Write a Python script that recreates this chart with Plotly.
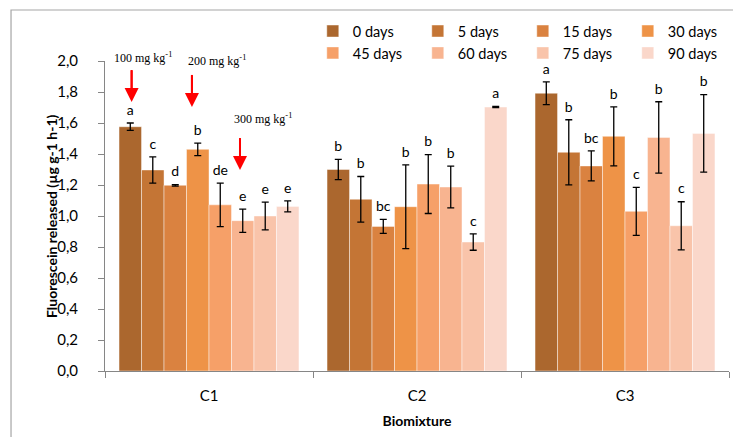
import plotly.graph_objects as go

categories = ["C1", "C2", "C3"]
series_names = ["0 days", "5 days", "15 days", "30 days", "45 days", "60 days", "75 days", "90 days"]
colors = ["#AB672E", "#C47535", "#DA8240", "#EE9347", "#F6A068", "#F8B490", "#F9C4AA", "#FAD7CA"]
legend_groups = ["g0", "g1", "g2", "g3", "g0", "g1", "g2", "g3"]

# values[series][category]
values = [
    [1.576, 1.300, 1.792],
    [1.297, 1.108, 1.411],
    [1.198, 0.933, 1.323],
    [1.430, 1.060, 1.514],
    [1.072, 1.206, 1.030],
    [0.970, 1.187, 1.507],
    [1.000, 0.832, 0.937],
    [1.062, 1.703, 1.533],
]
errors = [
    [0.024, 0.065, 0.073],
    [0.085, 0.147, 0.210],
    [0.005, 0.045, 0.097],
    [0.040, 0.270, 0.190],
    [0.140, 0.190, 0.155],
    [0.075, 0.135, 0.230],
    [0.090, 0.053, 0.155],
    [0.035, 0.004, 0.250],
]
letters = [
    ["a", "b", "a"],
    ["c", "b", "b"],
    ["d", "bc", "bc"],
    ["b", "b", "b"],
    ["de", "b", "c"],
    ["e", "b", "b"],
    ["e", "c", "c"],
    ["e", "a", "b"],
]
dose_labels = ["100 mg kg<sup>-1</sup>", "200 mg kg<sup>-1</sup>", "300 mg kg<sup>-1</sup>"]
dose_text_x = [-0.317, 0.0385, 0.2596]
dose_text_ypaper = [1.0097, 1.0032, 0.8130]
dose_arrow_x = [-0.372, -0.082, 0.149]
dose_arrow_tip_y = [1.735, 1.703, 1.297]
dose_arrow_tail_y = [1.942, 1.910, 1.503]

FONT = "Lato"
n = len(series_names)
group_frac = 0.865
bw = group_frac / n

fig = go.Figure()
for i, name in enumerate(series_names):
    xs = [c + (i - (n - 1) / 2) * bw for c in range(len(categories))]
    fig.add_trace(go.Bar(
        x=xs, y=values[i], width=bw, name=name, legendgroup=legend_groups[i],
        marker=dict(color=colors[i], line=dict(color="rgba(255,255,255,0.55)", width=0.8)),
        error_y=dict(type="data", array=errors[i], color="black", thickness=1.3, width=3.5),
    ))
for i in range(n):
    xs = [c + (i - (n - 1) / 2) * bw for c in range(len(categories))]
    ys = [values[i][c] + errors[i][c] for c in range(len(categories))]
    fig.add_trace(go.Scatter(
        x=xs, y=ys, mode="markers+text", text=letters[i], textposition="top center",
        marker=dict(size=6, color="rgba(0,0,0,0)"),
        textfont=dict(family=FONT, size=14, color="black"), showlegend=False, hoverinfo="skip",
    ))

for k in range(3):
    # arrow shaft
    fig.add_shape(type="line", xref="x", yref="y",
                  x0=dose_arrow_x[k], x1=dose_arrow_x[k],
                  y0=dose_arrow_tail_y[k], y1=dose_arrow_tip_y[k] + 0.05,
                  line=dict(color="#FF0000", width=2))
    # arrow head
    fig.add_annotation(x=dose_arrow_x[k], y=dose_arrow_tip_y[k],
                       ax=dose_arrow_x[k], ay=dose_arrow_tail_y[k], axref="x", ayref="y", text="",
                       font=dict(size=1), borderpad=0,
                       showarrow=True, arrowhead=2, arrowsize=1.4, arrowwidth=2, arrowcolor="#FF0000")
    fig.add_annotation(x=dose_text_x[k], y=dose_text_ypaper[k], xref="x", yref="paper",
                       xanchor="center", yanchor="middle",
                       text=dose_labels[k], showarrow=False,
                       font=dict(family="Liberation Serif", size=12, color="black"))

# y-axis title
fig.add_annotation(x=-0.0865, y=0.5, xref="paper", yref="paper", textangle=-90,
                   xanchor="center", yanchor="middle",
                   text="<b>Fluorescein released (µg g-1 h-1)</b>", showarrow=False,
                   font=dict(family=FONT, size=14, color="black"))

# outer chart border
fig.add_shape(type="rect", xref="paper", yref="paper", x0=-0.1506, x1=1.06, y0=-0.26, y1=1.1645,
              line=dict(color="#A6A6A6", width=1.2), fillcolor="rgba(0,0,0,0)", layer="below")

fig.update_layout(
    width=733, height=429,
    margin=dict(l=97, r=12, t=53, b=66, autoexpand=False),
    plot_bgcolor="white", paper_bgcolor="white",
    separators=", ",
    font=dict(family=FONT, size=15, color="black"),
    barmode="overlay",
    legend=dict(orientation="h", x=0.333, y=1.148, xanchor="left", yanchor="top",
                entrywidth=60, entrywidthmode="pixels", itemwidth=30, traceorder="grouped",
                font=dict(family=FONT, size=14.5), tracegroupgap=0, bgcolor="rgba(0,0,0,0)"),
    xaxis=dict(range=[-0.5, 2.5], tickvals=list(range(len(categories))), ticktext=categories,
               ticks="", showline=True, linecolor="#868686", linewidth=1, showgrid=False, zeroline=False,
               ticklabelstandoff=11,
               minor=dict(tick0=-0.5, dtick=1, ticks="outside", ticklen=6, tickcolor="#868686", showgrid=False),
               title=dict(text="<b>Biomixture</b>", font=dict(family=FONT, size=14), standoff=13)),
    yaxis=dict(range=[0, 2.0], dtick=0.2, tickformat=".1f", ticks="outside", ticklen=6, tickcolor="#868686",
               showline=True, linecolor="#868686", linewidth=1, showgrid=False, zeroline=False,
               ticklabelstandoff=17),
)

fig.write_html("out.html")
